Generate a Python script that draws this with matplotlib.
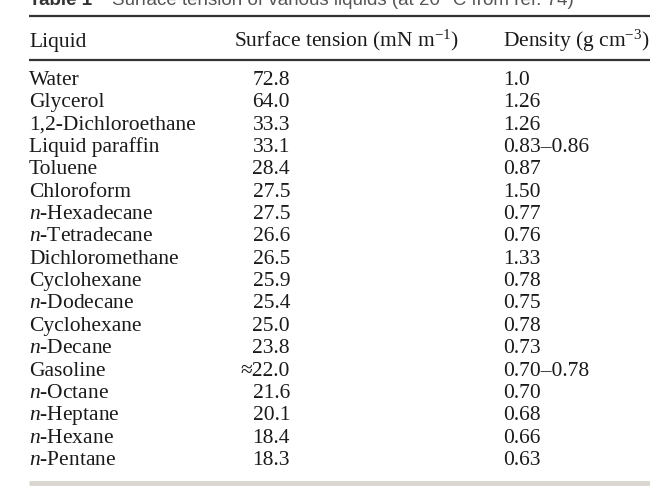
import matplotlib
matplotlib.use("Agg")
import matplotlib.pyplot as plt

plt.rcParams['font.family'] = ['Liberation Serif', 'DejaVu Serif']
plt.rcParams['mathtext.fontset'] = 'custom'
plt.rcParams['mathtext.rm'] = 'Liberation Serif'
plt.rcParams['mathtext.it'] = 'Liberation Serif:italic'

# table data
caption_bold = "Table 1"
caption_rest = "Surface tension of various liquids (at 20 \u00b0C from ref. 74)"
headers = ["Liquid", "Surface tension (mN m$^{-1}$)", "Density (g cm$^{-3}$)"]
liquids = ["Water", "Glycerol", "1,2-Dichloroethane", "Liquid paraffin", "Toluene",
           "Chloroform", "$n$-Hexadecane", "$n$-Tetradecane", "Dichloromethane",
           "Cyclohexane", "$n$-Dodecane", "Cyclohexane", "$n$-Decane", "Gasoline",
           "$n$-Octane", "$n$-Heptane", "$n$-Hexane", "$n$-Pentane"]
tension = ["72.8", "64.0", "33.3", "33.1", "28.4", "27.5", "27.5", "26.6", "26.5",
           "25.9", "25.4", "25.0", "23.8", "\u224822.0", "21.6", "20.1", "18.4", "18.3"]
density = ["1.0", "1.26", "1.26", "0.83\u20130.86", "0.87", "1.50", "0.77", "0.76",
           "1.33", "0.78", "0.75", "0.78", "0.73", "0.70\u20130.78", "0.70", "0.68",
           "0.66", "0.63"]

W, H = 650, 487
fig = plt.figure(figsize=(W / 100, H / 100), dpi=100)
ax = fig.add_axes([0, 0, 1, 1])
ax.set_xlim(0, W)
ax.set_ylim(H, 0)
ax.axis('off')

fs = 15.5
txt = '#1a1a1a'
x_liq, x_ten, x_den = 29, 290, 503
y0, dy = 85, 22.35   # baseline of first row, row pitch

# caption, clipped at the top like the source
ax.text(x_liq, 5, caption_bold, fontsize=13.5, fontweight='bold', color='#333333',
        va='baseline', ha='left', fontfamily=['Liberation Sans'])
ax.text(112, 5, caption_rest, fontsize=13.5, color='#555555',
        va='baseline', ha='left', fontfamily=['Liberation Sans'])

ax.plot([x_liq, W], [16, 16], color='#333333', lw=1.6, solid_capstyle='butt')
ax.plot([x_liq, W], [60, 60], color='#333333', lw=1.6, solid_capstyle='butt')

ax.text(x_liq, 46.5, headers[0], fontsize=fs, color=txt, va='baseline', ha='left')
ax.text(234, 46.5, headers[1], fontsize=fs, color=txt, va='baseline', ha='left')
ax.text(x_den, 46.5, headers[2], fontsize=fs, color=txt, va='baseline', ha='left')

for i, (name, t, d) in enumerate(zip(liquids, tension, density)):
    y = y0 + i * dy
    ax.text(x_liq, y, name, fontsize=fs, color=txt, va='baseline', ha='left')
    ax.text(x_ten, y, t, fontsize=fs, color=txt, va='baseline', ha='right')
    ax.text(x_den, y, d, fontsize=fs, color=txt, va='baseline', ha='left')

ax.plot([x_liq, W], [483, 483], color='#d9d7d0', lw=3.5, solid_capstyle='butt')

fig.savefig('out.png', dpi=100)
